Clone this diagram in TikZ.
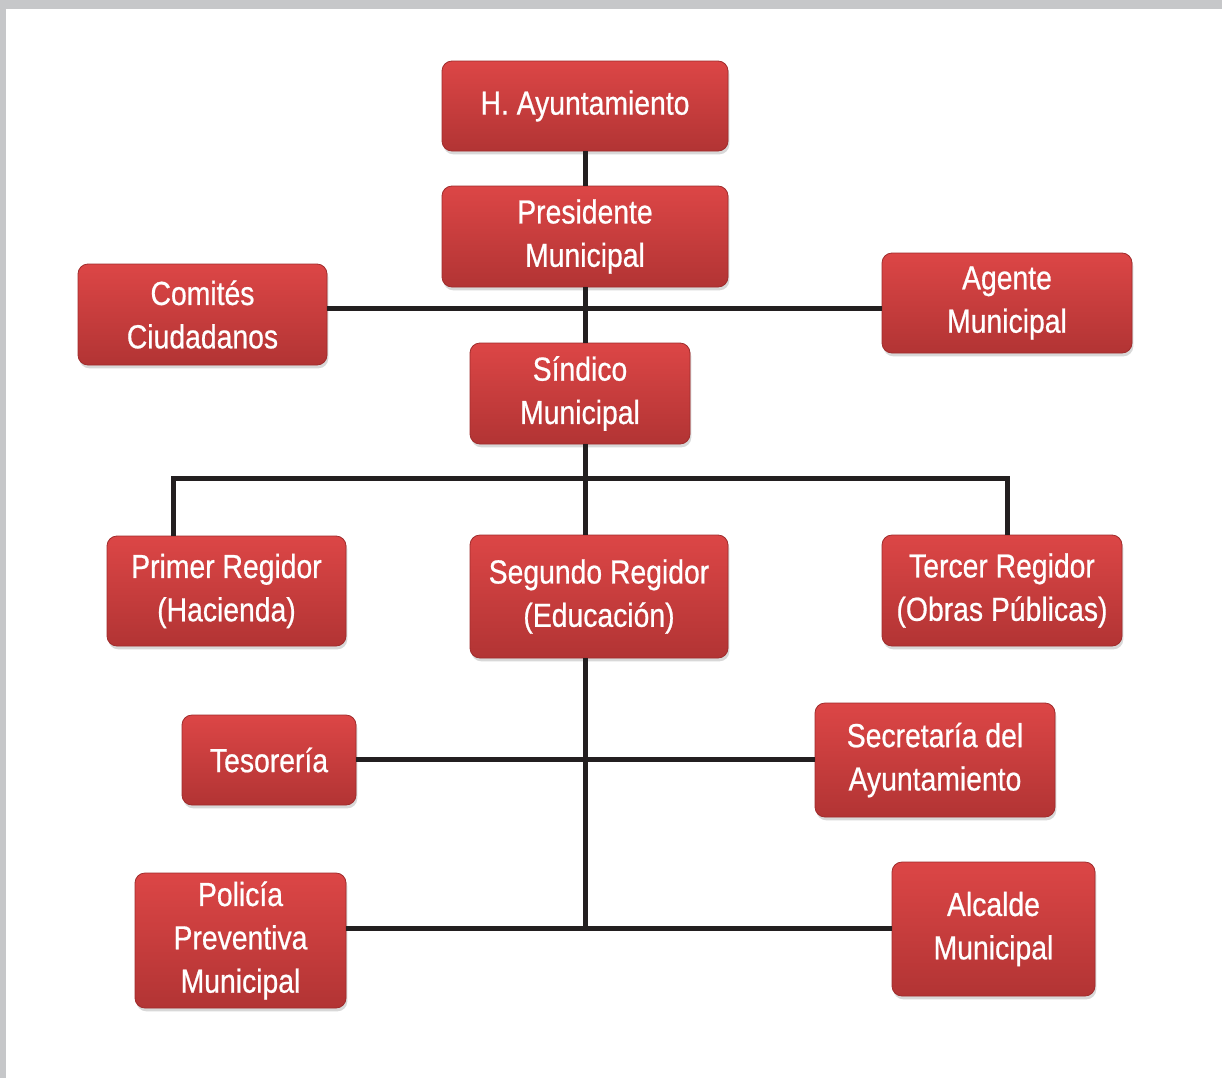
\documentclass[tikz,border=0pt]{standalone}
\usepackage{fontspec}
\setmainfont[FakeStretch=0.85,FakeBold=0.6]{Liberation Sans}
\usetikzlibrary{shadows}
\definecolor{boxtop}{HTML}{DC4646}
\definecolor{boxbot}{HTML}{B23434}
\definecolor{boxedge}{HTML}{A02C2C}
\definecolor{linec}{HTML}{231F20}
\definecolor{frame}{HTML}{C6C7C9}
\begin{document}
\begin{tikzpicture}[x=0.75pt,y=-0.75pt,
  orgbox/.style={rectangle, rounded corners=7.5pt, top color=boxtop, bottom color=boxbot,
    draw=boxedge, line width=0.6pt, text=white, align=center, inner sep=0pt,
    font=\fontsize{25}{32.5}\selectfont,
    drop shadow={opacity=0.3, shadow xshift=1pt, shadow yshift=-2.5pt}},
  conn/.style={draw=linec, line width=3.75pt}]
\useasboundingbox (0,0) rectangle (1222,1078);
\fill[white] (0,0) rectangle (1222,1078);
\fill[frame] (0,0) rectangle (1222,9);
\fill[frame] (0,0) rectangle (6,1078);
% coordinates for connectors
\coordinate (h1) at (585,308);
\coordinate (b) at (585,478);
\coordinate (pl) at (173,478);
\coordinate (pr) at (1007,478);
\coordinate (c1) at (585,759);
\coordinate (c2) at (585,928);
% nodes
\node[orgbox, minimum width=214.5pt, minimum height=67.5pt] (ayu) at (585,106) {H. Ayuntamiento};
\node[orgbox, minimum width=214.5pt, minimum height=75.75pt] (pres) at (585,236.5) {Presidente\\Municipal};
\node[orgbox, minimum width=186.75pt, minimum height=75.75pt] (com) at (202.5,314.5) {Comités\\Ciudadanos};
\node[orgbox, minimum width=187.5pt, minimum height=75pt] (age) at (1007,303) {Agente\\Municipal};
\node[orgbox, minimum width=165pt, minimum height=75.75pt] (sin) at (580,393.5) {Síndico\\Municipal};
\node[orgbox, minimum width=179.25pt, minimum height=82.5pt] (pri) at (226.5,591) {Primer Regidor\\(Hacienda)};
\node[orgbox, minimum width=193.5pt, minimum height=92.25pt] (seg) at (599,596.5) {Segundo Regidor\\(Educación)};
\node[orgbox, minimum width=180pt, minimum height=83.25pt] (ter) at (1002,590.5) {Tercer Regidor\\(Obras Públicas)};
\node[orgbox, minimum width=130.5pt, minimum height=67.5pt] (tes) at (269,760) {Tesorería};
\node[orgbox, minimum width=180pt, minimum height=85.5pt] (sec) at (935,760) {Secretaría del\\Ayuntamiento};
\node[orgbox, minimum width=158.25pt, minimum height=101.25pt] (pol) at (240.5,940.5) {Policía\\Preventiva\\Municipal};
\node[orgbox, minimum width=152.25pt, minimum height=100.5pt] (alc) at (993.5,929) {Alcalde\\Municipal};
% connectors
\draw[conn] (ayu.south) -- (pres.north);
\draw[conn] (com.east |- h1) -- (age.west |- h1);
\draw[conn] (pres.south) -- (pres.south |- sin.north);
\draw[conn] (pres.south |- sin.south) -- (b);
\draw[conn] (pri.north -| pl) -- (pl) -- (pr) -- (ter.north -| pr);
\draw[conn] (b) -- (b |- seg.north);
\draw[conn] (b |- seg.south) -- (c2);
\draw[conn] (tes.east |- c1) -- (sec.west |- c1);
\draw[conn] (pol.east |- c2) -- (alc.west |- c2);
\end{tikzpicture}
\end{document}
